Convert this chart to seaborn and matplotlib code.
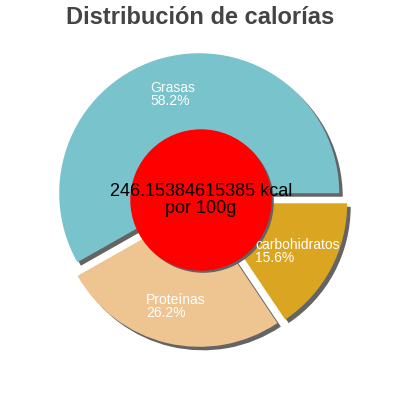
import matplotlib
matplotlib.use("Agg")
import matplotlib.pyplot as plt
import seaborn as sns

sns.set_style("white")
plt.rcParams['font.family'] = ['Liberation Sans', 'DejaVu Sans']

# data
nutrients = ['Grasas', 'Proteínas', 'carbohidratos']
percents = [58.2, 26.2, 15.6]
colors = ['#79c3cc', '#eec591', '#daa520']
kcal = '246.15384615385'

explode = [0.05, 0.05, 0.05]
shadow_off = 0.025
shadow_color = '#646464'
noedge = dict(linewidth=0, edgecolor='none')

fig = plt.figure(figsize=(4, 4), dpi=100)
ax = fig.add_axes([0, 0, 1, 1])

# shadow of the ring
ax.pie(percents, explode=explode, colors=[shadow_color] * len(percents),
       startangle=0, counterclock=True, radius=1,
       center=(shadow_off, -shadow_off), wedgeprops=noedge)

labels = [f"{n}\n{p}%" for n, p in zip(nutrients, percents)]
wedges, texts = ax.pie(percents, explode=explode, colors=colors, labels=labels,
                       labeldistance=0.73, startangle=0, counterclock=True,
                       radius=1, wedgeprops=noedge,
                       textprops=dict(color='white', fontsize=10))
for t in texts:
    t.set_ha('center')
    t.set_va('center')
    t.set_multialignment('left')
    t.set_linespacing(0.95)

# red centre with its shadow
ax.pie([1], colors=[shadow_color], radius=0.505,
       center=(shadow_off * 0.6, -shadow_off * 0.6), wedgeprops=noedge)
ax.pie([1], colors=['#ff0000'], radius=0.505, wedgeprops=noedge)

ax.text(0, 0, f"{kcal} kcal\npor 100g", ha='center', va='center',
        fontsize=13, color='black', linespacing=0.95)

ax.set_xlim(-201 / 140, 199 / 140)
ax.set_ylim(-200 / 140, 200 / 140)
ax.set_aspect('equal')
ax.axis('off')

fig.text(0.5, 1 - 17 / 400, 'Distribución de calorías', ha='center', va='center',
         fontsize=17, fontweight='bold', color='#444444')

fig.savefig('out.png', dpi=100)
